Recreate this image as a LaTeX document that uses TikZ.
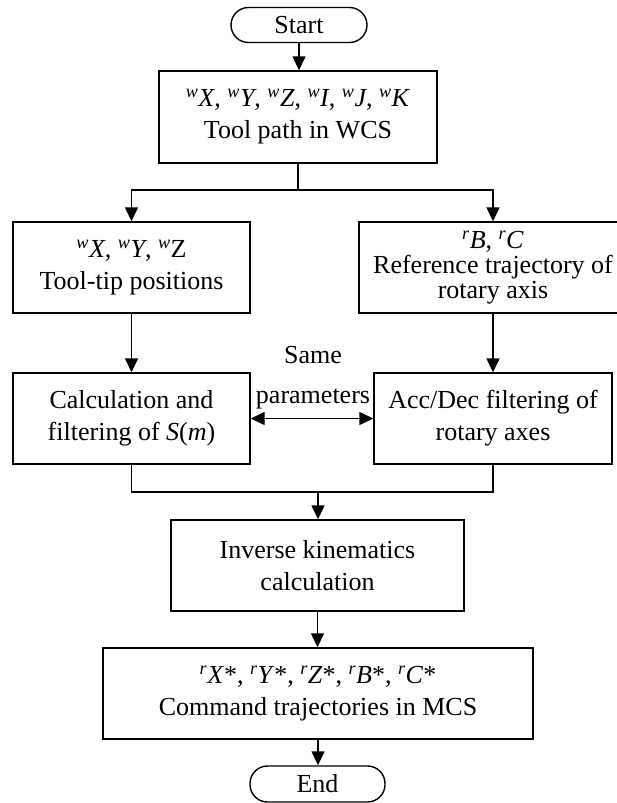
\documentclass[tikz,border=0pt]{standalone}
\usepackage{fontspec}
\setmainfont{Liberation Serif}
\usetikzlibrary{arrows.meta}
\newcommand\lsup[2]{\textsuperscript{\itshape #1}\textit{#2}}
\begin{document}
\begin{tikzpicture}[x=1pt,y=-1pt,
  line width=1.4pt,
  box/.style={draw,rectangle,align=center,inner sep=0pt,font=\fontsize{26}{32}\selectfont},
  term/.style={draw,rectangle,rounded corners=17.5pt,align=center,inner sep=0pt,font=\fontsize{26}{32}\selectfont},
  lbl/.style={align=center,inner sep=0pt,font=\fontsize{26}{40}\selectfont},
  arr/.style={-{Triangle[length=14pt,width=13pt]}},
  arrb/.style={{Triangle[length=14pt,width=13pt]}-{Triangle[length=14pt,width=13pt]}}]
\useasboundingbox (0,0) rectangle (616,803);
\node[term, minimum width=136pt, minimum height=35pt] (start) at (299,25) {Start};
\node[box, minimum width=278pt, minimum height=92pt] (b1) at (298,117)
  {\lsup{w}{X}, \lsup{w}{Y}, \lsup{w}{Z}, \lsup{w}{I}, \lsup{w}{J}, \lsup{w}{K}\\ Tool path in WCS};
\node[box, minimum width=237pt, minimum height=91pt] (tt) at (131.5,267.5)
  {\lsup{w}{X}, \lsup{w}{Y}, \textsuperscript{\itshape w}Z\\ Tool-tip positions};
\node[box, minimum width=268pt, minimum height=91pt, font=\fontsize{26}{25}\selectfont] (ref) at (493,267.5)
  {\lsup{r}{B}, \lsup{r}{C}\\ Reference trajectory of\\ rotary axis};
\node[box, minimum width=237pt, minimum height=91pt] (calc) at (131.5,418.5)
  {Calculation and\\ filtering of \textit{S}(\textit{m})};
\node[box, minimum width=238pt, minimum height=91pt] (acc) at (493,418.5)
  {Acc/Dec filtering of\\ rotary axes};
\node[lbl] (same) at (313,378) {Same\\ parameters};
\node[box, minimum width=293pt, minimum height=91pt] (inv) at (317.5,565.5)
  {Inverse kinematics\\ calculation};
\node[box, minimum width=430pt, minimum height=91pt] (cmd) at (318,693.5)
  {\lsup{r}{X}*, \lsup{r}{Y}*, \lsup{r}{Z}*, \lsup{r}{B}*, \lsup{r}{C}*\\ Command trajectories in MCS};
\node[term, minimum width=135pt, minimum height=36pt] (end) at (317.5,784) {End};
\coordinate (split) at (298,190);
\coordinate (merge) at (318,492);
\draw[arr] (start.south) -- (start.south |- b1.north);
\draw (b1.south) -- (split);
\draw[arr] (split) -| (tt.north);
\draw[arr] (split) -| (ref.north);
\draw[arr] (tt.south) -- (calc.north);
\draw[arr] (ref.south) -- (acc.north);
\draw[arrb] (calc.east) -- (acc.west);
\draw (calc.south) |- (merge);
\draw (acc.south) |- (merge);
\draw[arr] (merge) -- (merge |- inv.north);
\draw[arr] (inv.south) -- (inv.south |- cmd.north);
\draw[arr] (cmd.south) -- (cmd.south |- end.north);
\end{tikzpicture}
\end{document}
